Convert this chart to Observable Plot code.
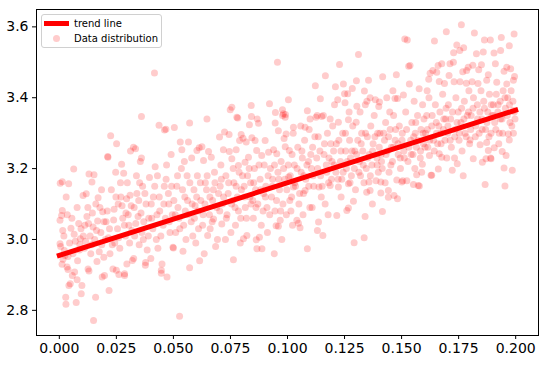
<!DOCTYPE html>
<html><head><meta charset="utf-8">
<script src="https://cdn.jsdelivr.net/npm/d3@7"></script>
<script src="https://cdn.jsdelivr.net/npm/@observablehq/plot@0.6"></script>
<style>
body{margin:0;background:#fff;}
#wrap{position:relative;width:551px;height:366px;}
.legend{position:absolute;left:41px;top:14px;width:119px;height:32px;border:1px solid #d0d0d0;border-radius:3px;background:rgba(255,255,255,0.8);font-family:"DejaVu Sans";font-size:10px;color:#000;}
.legend .ln{position:absolute;left:2px;top:6px;width:25px;height:5px;background:#ff0000;}
.legend .dt{position:absolute;left:11px;top:20px;width:7px;height:7px;border-radius:50%;background:#ffcccc;}
.legend .t1{position:absolute;left:32px;top:2px;line-height:13px;}
.legend .t2{position:absolute;left:32px;top:17px;line-height:13px;}
</style></head><body><div id="wrap"></div>
<script>
const xTicks = [0, 0.025, 0.05, 0.075, 0.1, 0.125, 0.15, 0.175, 0.2];
const yTicks = [2.8, 3.0, 3.2, 3.4, 3.6];
const trendX = [0, 0.2];
const trendY = [2.955, 3.365];
const legendLabels = ["trend line", "Data distribution"];
const dataPoints = [
[0.0004,3.159],[0.0013,3.163],[0.0041,3.157],[0.0063,3.199],[0.0003,3.054],[0.0010,3.068],[0.0013,3.082],[0.0003,2.988],[0.0006,2.980],[0.0022,2.969],[0.0038,2.952],[0.0034,2.922],[0.0038,2.915],[0.0057,2.898],[0.0067,2.908],[0.0042,2.870],[0.0028,2.837],[0.0029,2.817],[0.0074,2.822],[0.0078,2.886],[0.0096,2.847],[0.0048,2.875],[0.0020,3.010],[0.0051,3.032],[0.0070,2.995],[0.0085,3.045],[0.0092,3.002],[0.0016,2.944],[0.0060,2.960],[0.0088,2.970],[0.0078,3.090],[0.0030,3.120],
[0.0104,3.124],[0.0118,3.129],[0.0126,2.917],[0.0130,2.911],[0.0099,2.870],[0.0150,2.771],[0.0159,2.837],[0.0188,2.894],[0.0198,2.898],[0.0130,3.185],[0.0152,3.183],[0.0143,3.162],[0.0112,3.040],[0.0121,3.065],[0.0135,3.010],[0.0142,2.985],[0.0160,3.100],[0.0168,3.052],[0.0175,2.965],[0.0182,3.020],[0.0190,3.078],[0.0195,2.950],[0.0110,2.975],[0.0148,3.035],[0.0170,3.118],[0.0185,3.140],[0.0165,2.938],[0.0125,3.090],
[0.0213,3.232],[0.0273,3.212],[0.0247,3.190],[0.0282,3.187],[0.0225,3.293],[0.0251,3.270],[0.0212,3.234],[0.0218,2.856],[0.0235,2.917],[0.0250,2.913],[0.0261,2.901],[0.0286,2.898],[0.0296,2.931],[0.0286,2.903],[0.0205,3.050],[0.0215,3.005],[0.0228,3.140],[0.0240,3.085],[0.0255,3.030],[0.0265,2.975],[0.0270,3.120],[0.0278,3.060],[0.0290,3.010],[0.0298,3.160],[0.0222,2.960],[0.0243,2.990],[0.0258,3.100],[0.0268,3.160],[0.0292,3.075],
[0.0325,3.260],[0.0312,3.250],[0.0334,3.256],[0.0355,3.220],[0.0360,3.230],[0.0320,2.941],[0.0326,2.946],[0.0377,2.927],[0.0378,2.935],[0.0305,3.040],[0.0315,3.095],[0.0330,3.010],[0.0340,3.130],[0.0345,3.065],[0.0350,2.985],[0.0365,3.150],[0.0370,3.050],[0.0380,3.100],[0.0390,3.010],[0.0395,3.175],[0.0338,3.180],[0.0308,2.990],[0.0385,2.970],[0.0362,3.020],[0.0348,3.110],[0.0360,3.347],
[0.0417,3.470],[0.0437,3.322],[0.0461,3.309],[0.0467,3.311],[0.0401,2.946],[0.0447,2.905],[0.0472,2.894],[0.0447,2.913],[0.0450,2.931],[0.0498,2.978],[0.0500,2.976],[0.0405,3.060],[0.0412,3.120],[0.0425,3.000],[0.0430,3.180],[0.0440,3.080],[0.0455,3.040],[0.0460,3.150],[0.0470,3.210],[0.0480,3.100],[0.0485,3.020],[0.0490,3.240],[0.0420,3.205],[0.0432,2.975],[0.0465,3.060],[0.0478,3.130],[0.0495,3.070],
[0.0504,3.316],[0.0530,3.275],[0.0566,3.275],[0.0537,3.253],[0.0571,3.329],[0.0527,2.783],[0.0542,2.967],[0.0571,2.920],[0.0510,3.020],[0.0515,3.150],[0.0520,3.090],[0.0535,3.200],[0.0545,3.040],[0.0550,3.120],[0.0555,3.000],[0.0560,3.180],[0.0565,3.070],[0.0580,3.230],[0.0585,3.010],[0.0590,3.140],[0.0595,3.095],[0.0525,3.060],[0.0548,3.220],[0.0578,3.050],[0.0598,2.990],
[0.0613,3.259],[0.0625,3.262],[0.0603,3.251],[0.0654,3.248],[0.0666,3.232],[0.0632,3.223],[0.0647,3.340],[0.0610,3.030],[0.0620,3.110],[0.0630,3.070],[0.0640,3.160],[0.0650,3.011],[0.0660,3.120],[0.0670,3.050],[0.0680,3.190],[0.0690,3.090],[0.0693,3.000],[0.0605,3.180],[0.0645,3.140],[0.0675,3.140],[0.0685,2.980],[0.0635,2.960],[0.0615,2.940],[0.0661,3.030],[0.0676,3.058],
[0.0749,3.366],[0.0756,3.373],[0.0782,3.343],[0.0778,3.345],[0.0724,3.303],[0.0744,3.296],[0.0702,3.289],[0.0797,3.296],[0.0790,3.279],[0.0719,3.253],[0.0745,3.248],[0.0775,3.253],[0.0756,3.228],[0.0785,3.209],[0.0712,3.044],[0.0763,2.943],[0.0793,2.990],[0.0705,3.150],[0.0715,3.100],[0.0730,3.180],[0.0735,3.070],[0.0740,3.130],[0.0752,3.020],[0.0765,3.160],[0.0770,3.090],[0.0780,3.120],[0.0788,3.190],[0.0795,3.060],[0.0708,3.210],[0.0728,3.000],[0.0772,3.040],[0.0760,3.110],
[0.0841,3.378],[0.0842,3.347],[0.0867,3.340],[0.0873,3.328],[0.0833,3.324],[0.0805,3.286],[0.0819,3.275],[0.0844,3.287],[0.0858,3.279],[0.0814,3.218],[0.0829,3.232],[0.0865,3.251],[0.0887,3.237],[0.0807,3.002],[0.0822,3.011],[0.0866,2.974],[0.0888,2.974],[0.0877,3.006],[0.0863,2.999],[0.0810,3.150],[0.0815,3.090],[0.0825,3.180],[0.0835,3.120],[0.0850,3.060],[0.0855,3.200],[0.0860,3.140],[0.0870,3.100],[0.0880,3.170],[0.0885,3.040],[0.0895,3.130],[0.0898,3.210],[0.0838,3.160],[0.0848,3.110],
[0.0956,3.500],[0.0921,3.383],[0.0947,3.358],[0.0978,3.366],[0.0991,3.353],[0.0946,3.329],[0.0978,3.350],[0.0960,3.307],[0.0994,3.298],[0.0985,3.285],[0.0902,3.279],[0.0917,3.246],[0.0939,3.253],[0.0953,3.242],[0.0990,3.262],[0.0942,2.960],[0.0950,3.039],[0.0968,3.054],[0.0960,3.037],[0.0905,3.150],[0.0910,3.090],[0.0925,3.200],[0.0930,3.120],[0.0935,3.170],[0.0945,3.080],[0.0958,3.190],[0.0965,3.140],[0.0972,3.220],[0.0980,3.100],[0.0988,3.170],[0.0995,3.070],[0.0912,3.020],[0.0975,3.000],[0.0982,3.355],[0.0990,3.345],
[0.1004,3.394],[0.1008,3.251],[0.1087,3.363],[0.1087,2.974],[0.1048,3.046],[0.1055,3.033],[0.1041,3.054],[0.1026,3.317],[0.1077,3.317],[0.1099,3.340],[0.1012,3.180],[0.1018,3.120],[0.1025,3.300],[0.1030,3.210],[0.1035,3.150],[0.1045,3.260],[0.1050,3.100],[0.1060,3.190],[0.1065,3.230],[0.1070,3.130],[0.1075,3.280],[0.1080,3.170],[0.1092,3.220],[0.1098,3.090],[0.1015,3.080],[0.1058,3.320],[0.1068,3.070],[0.1095,3.310],[0.1022,3.040],[0.1026,3.148],[0.1005,3.176],[0.1077,3.138],
[0.1122,3.434],[0.1144,3.397],[0.1166,3.462],[0.1130,3.350],[0.1157,3.350],[0.1136,3.049],[0.1131,3.025],[0.1155,3.011],[0.1125,3.345],[0.1150,3.347],[0.1187,3.340],[0.1138,3.148],[0.1187,3.152],[0.1105,3.200],[0.1110,3.260],[0.1115,3.150],[0.1128,3.230],[0.1135,3.290],[0.1145,3.180],[0.1160,3.240],[0.1165,3.100],[0.1170,3.210],[0.1175,3.300],[0.1180,3.160],[0.1190,3.270],[0.1195,3.220],[0.1108,3.090],[0.1178,3.070],[0.1148,3.120],[0.1198,3.320],
[0.1228,3.494],[0.1206,3.380],[0.1220,3.394],[0.1210,3.431],[0.1245,3.439],[0.1284,3.426],[0.1250,3.411],[0.1264,3.411],[0.1252,3.386],[0.1223,3.331],[0.1267,3.338],[0.1223,3.148],[0.1267,3.157],[0.1216,3.068],[0.1260,3.082],[0.1267,3.089],[0.1289,3.108],[0.1292,2.991],[0.1202,3.250],[0.1212,3.190],[0.1225,3.280],[0.1232,3.220],[0.1238,3.170],[0.1242,3.300],[0.1255,3.250],[0.1258,3.200],[0.1272,3.280],[0.1276,3.230],[0.1280,3.180],[0.1286,3.320],[0.1295,3.250],[0.1298,3.140],[0.1235,3.120],[0.1270,3.360],
[0.1311,3.522],[0.1302,3.448],[0.1355,3.449],[0.1337,3.419],[0.1304,3.376],[0.1341,3.380],[0.1348,3.390],[0.1362,3.400],[0.1385,3.394],[0.1301,3.331],[0.1336,3.005],[0.1340,3.065],[0.1347,3.133],[0.1388,3.166],[0.1362,3.138],[0.1357,3.162],[0.1308,3.280],[0.1315,3.220],[0.1320,3.180],[0.1325,3.300],[0.1330,3.250],[0.1345,3.200],[0.1350,3.290],[0.1358,3.240],[0.1365,3.320],[0.1370,3.210],[0.1375,3.270],[0.1380,3.350],[0.1392,3.230],[0.1395,3.300],[0.1398,3.190],[0.1318,3.360],[0.1372,3.100],[0.1335,3.160],
[0.1417,3.459],[0.1477,3.465],[0.1403,3.388],[0.1400,3.375],[0.1435,3.400],[0.1471,3.398],[0.1482,3.398],[0.1416,3.079],[0.1442,3.119],[0.1467,3.124],[0.1482,3.115],[0.1409,3.162],[0.1409,3.131],[0.1442,3.138],[0.1479,3.168],[0.1405,3.300],[0.1410,3.240],[0.1415,3.200],[0.1425,3.280],[0.1430,3.330],[0.1438,3.250],[0.1445,3.190],[0.1450,3.310],[0.1455,3.260],[0.1460,3.220],[0.1465,3.350],[0.1472,3.280],[0.1485,3.240],[0.1490,3.320],[0.1495,3.200],[0.1448,3.360],[0.1462,3.420],[0.1428,3.160],
[0.1514,3.566],[0.1525,3.563],[0.1531,3.489],[0.1537,3.491],[0.1508,3.408],[0.1501,3.162],[0.1505,3.166],[0.1552,3.155],[0.1578,3.151],[0.1566,3.183],[0.1588,3.190],[0.1591,3.212],[0.1523,3.166],[0.1573,3.152],[0.1503,3.300],[0.1510,3.250],[0.1518,3.360],[0.1528,3.220],[0.1534,3.439],[0.1540,3.280],[0.1545,3.330],[0.1550,3.240],[0.1555,3.390],[0.1560,3.300],[0.1565,3.260],[0.1570,3.350],[0.1577,3.425],[0.1582,3.230],[0.1585,3.310],[0.1592,3.380],[0.1596,3.270],[0.1598,3.340],[0.1558,3.200],
[0.1644,3.560],[0.1696,3.586],[0.1660,3.491],[0.1676,3.496],[0.1637,3.477],[0.1654,3.472],[0.1625,3.469],[0.1619,3.452],[0.1665,3.446],[0.1629,3.181],[0.1661,3.199],[0.1622,3.237],[0.1665,3.242],[0.1676,3.232],[0.1632,3.181],[0.1605,3.300],[0.1610,3.350],[0.1615,3.260],[0.1620,3.400],[0.1632,3.320],[0.1640,3.280],[0.1648,3.380],[0.1652,3.330],[0.1658,3.270],[0.1668,3.360],[0.1672,3.300],[0.1680,3.410],[0.1685,3.340],[0.1690,3.280],[0.1695,3.370],[0.1698,3.230],[0.1612,3.420],[0.1688,3.440],
[0.1762,3.606],[0.1742,3.549],[0.1772,3.541],[0.1755,3.533],[0.1728,3.527],[0.1712,3.496],[0.1727,3.500],[0.1768,3.473],[0.1785,3.477],[0.1792,3.486],[0.1708,3.463],[0.1730,3.445],[0.1756,3.445],[0.1784,3.441],[0.1722,3.195],[0.1744,3.214],[0.1702,3.300],[0.1705,3.380],[0.1715,3.340],[0.1718,3.260],[0.1735,3.310],[0.1738,3.400],[0.1748,3.360],[0.1752,3.280],[0.1760,3.330],[0.1765,3.250],[0.1775,3.390],[0.1778,3.300],[0.1788,3.350],[0.1795,3.420],[0.1798,3.270],[0.1732,3.230],[0.1770,3.180],
[0.1819,3.583],[0.1863,3.563],[0.1889,3.563],[0.1828,3.524],[0.1858,3.529],[0.1812,3.492],[0.1850,3.493],[0.1838,3.479],[0.1880,3.465],[0.1809,3.445],[0.1873,3.449],[0.1866,3.155],[0.1814,3.228],[0.1854,3.218],[0.1870,3.228],[0.1880,3.251],[0.1800,3.281],[0.1844,3.267],[0.1873,3.274],[0.1892,3.228],[0.1805,3.350],[0.1815,3.400],[0.1825,3.320],[0.1832,3.380],[0.1840,3.300],[0.1848,3.420],[0.1852,3.340],[0.1860,3.390],[0.1868,3.310],[0.1878,3.360],[0.1885,3.410],[0.1892,3.300],[0.1896,3.350],[0.1835,3.440],[0.1890,3.230],
[0.1993,3.580],[0.1937,3.570],[0.1905,3.526],[0.1934,3.533],[0.1972,3.547],[0.1911,3.496],[0.1961,3.486],[0.1949,3.475],[0.1978,3.482],[0.1917,3.444],[0.1961,3.439],[0.1990,3.449],[0.1953,3.151],[0.1949,3.202],[0.1985,3.195],[0.1906,3.259],[0.1941,3.248],[0.1958,3.237],[0.1968,3.298],[0.1990,3.300],[0.1972,3.281],[0.1997,3.340],[0.1990,3.364],[0.1902,3.380],[0.1908,3.330],[0.1915,3.410],[0.1922,3.360],[0.1928,3.300],[0.1932,3.390],[0.1940,3.340],[0.1945,3.420],[0.1955,3.370],[0.1965,3.400],[0.1975,3.330],[0.1980,3.420],[0.1988,3.390],[0.1995,3.460],[0.1926,3.270],
[0.0015,3.025],[0.0045,2.990],[0.0055,3.060],[0.0080,2.940],[0.0095,3.030],[0.0025,2.955],[0.0065,3.015],[0.0035,3.070],[0.0090,2.985],[0.0012,2.930],
[0.0105,3.010],[0.0115,2.995],[0.0128,3.045],[0.0138,2.960],[0.0145,3.075],[0.0155,3.000],[0.0163,3.025],[0.0178,3.090],[0.0186,2.985],[0.0196,3.050],
[0.0202,3.000],[0.0210,3.080],[0.0220,3.030],[0.0232,2.985],[0.0238,3.055],[0.0248,3.120],[0.0260,3.005],[0.0275,3.095],[0.0285,3.040],[0.0295,3.115],
[0.0302,3.070],[0.0310,3.125],[0.0318,3.025],[0.0328,3.090],[0.0335,3.045],[0.0352,3.160],[0.0358,3.075],[0.0368,3.000],[0.0375,3.130],[0.0392,3.060],
[0.0403,3.100],[0.0410,3.030],[0.0418,3.150],[0.0428,3.070],[0.0438,3.120],[0.0445,3.010],[0.0458,3.100],[0.0468,3.170],[0.0482,3.050],[0.0492,3.150],
[0.0502,3.110],[0.0508,3.070],[0.0518,3.180],[0.0528,3.030],[0.0540,3.140],[0.0552,3.080],[0.0562,3.110],[0.0572,3.160],[0.0582,3.100],[0.0592,3.060],
[0.0602,3.120],[0.0608,3.080],[0.0618,3.160],[0.0628,3.040],[0.0638,3.100],[0.0648,3.180],[0.0658,3.070],[0.0672,3.110],[0.0682,3.160],[0.0698,3.130],
[0.0703,3.080],[0.0710,3.170],[0.0720,3.120],[0.0732,3.060],[0.0742,3.160],[0.0755,3.100],[0.0762,3.200],[0.0775,3.150],[0.0785,3.080],[0.0798,3.140],
[0.0803,3.180],[0.0812,3.120],[0.0820,3.060],[0.0832,3.200],[0.0840,3.100],[0.0852,3.160],[0.0862,3.090],[0.0875,3.210],[0.0883,3.140],[0.0893,3.080],
[0.0903,3.120],[0.0915,3.180],[0.0922,3.070],[0.0933,3.150],[0.0943,3.210],[0.0952,3.110],[0.0962,3.170],[0.0970,3.080],[0.0983,3.200],[0.0997,3.140],
[0.1003,3.210],[0.1010,3.110],[0.1020,3.240],[0.1032,3.160],[0.1042,3.200],[0.1053,3.130],[0.1063,3.250],[0.1072,3.180],[0.1085,3.210],[0.1093,3.150],
[0.1102,3.240],[0.1112,3.180],[0.1120,3.290],[0.1132,3.200],[0.1142,3.250],[0.1152,3.150],[0.1162,3.270],[0.1172,3.190],[0.1182,3.230],[0.1193,3.170],
[0.1204,3.210],[0.1214,3.270],[0.1222,3.170],[0.1234,3.250],[0.1244,3.190],[0.1254,3.300],[0.1262,3.220],[0.1274,3.160],[0.1283,3.250],[0.1293,3.200],
[0.1303,3.240],[0.1313,3.190],[0.1323,3.270],[0.1332,3.210],[0.1342,3.300],[0.1352,3.230],[0.1363,3.180],[0.1373,3.250],[0.1383,3.290],[0.1393,3.210],
[0.1402,3.260],[0.1412,3.220],[0.1422,3.300],[0.1432,3.240],[0.1443,3.290],[0.1453,3.210],[0.1463,3.260],[0.1474,3.310],[0.1484,3.270],[0.1494,3.230],
[0.1502,3.280],[0.1512,3.230],[0.1522,3.310],[0.1532,3.260],[0.1542,3.240],[0.1553,3.290],[0.1562,3.330],[0.1572,3.280],[0.1583,3.250],[0.1594,3.300],
[0.1603,3.260],[0.1613,3.310],[0.1623,3.280],[0.1634,3.350],[0.1643,3.250],[0.1653,3.300],[0.1663,3.320],[0.1673,3.270],[0.1683,3.310],[0.1693,3.340],
[0.1703,3.320],[0.1713,3.280],[0.1723,3.360],[0.1733,3.290],[0.1743,3.330],[0.1753,3.300],[0.1763,3.370],[0.1773,3.340],[0.1783,3.290],[0.1793,3.360],
[0.1803,3.310],[0.1813,3.370],[0.1823,3.290],[0.1833,3.340],[0.1843,3.360],[0.1853,3.310],[0.1863,3.370],[0.1874,3.330],[0.1883,3.290],[0.1893,3.380],
[0.1903,3.350],[0.1913,3.310],[0.1923,3.380],[0.1933,3.340],[0.1943,3.300],[0.1953,3.400],[0.1963,3.350],[0.1973,3.380],[0.1983,3.320],[0.1994,3.360]
];
const trend = trendX.map((x, i) => ({x, y: trendY[i]}));
const chart = Plot.plot({
  width: 551, height: 366,
  marginLeft: 36, marginRight: 13, marginTop: 9, marginBottom: 31,
  style: {fontFamily: "DejaVu Sans", fontSize: "14px", color: "#000", background: "#fff"},
  x: {domain: [-0.01, 0.21]},
  y: {domain: [2.729, 3.649]},
  marks: [
    Plot.dot(dataPoints, {x: d => d[0], y: d => d[1], r: 3.5, fill: "#ff0000", fillOpacity: 0.2}),
    Plot.line(trend, {x: "x", y: "y", stroke: "#ff0000", strokeWidth: 5, strokeLinecap: "square"}),
    Plot.frame({stroke: "#000"}),
    Plot.axisX({ticks: xTicks, tickFormat: d3.format(".3f"), tickSize: 4, tickPadding: 4, label: null}),
    Plot.axisY({ticks: yTicks, tickFormat: d3.format(".1f"), tickSize: 4, tickPadding: 4, label: null})
  ]
});
const wrap = document.getElementById("wrap");
wrap.appendChild(chart);
const lg = document.createElement("div");
lg.className = "legend";
lg.innerHTML = `<div class="ln"></div><div class="t1">${legendLabels[0]}</div><div class="dt"></div><div class="t2">${legendLabels[1]}</div>`;
wrap.appendChild(lg);
</script>
</body></html>
